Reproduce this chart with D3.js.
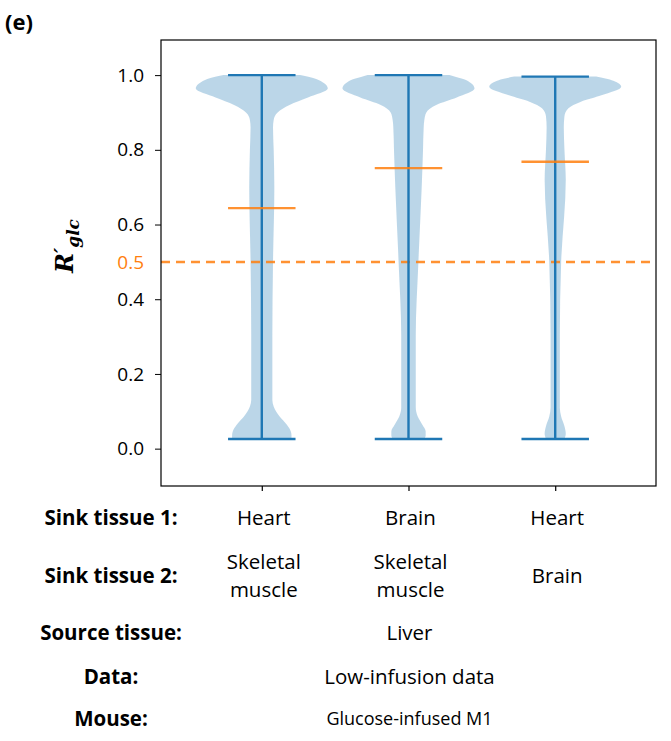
<!DOCTYPE html>
<html>
<head>
<meta charset="utf-8">
<script src="https://cdn.jsdelivr.net/npm/d3@7"></script>
<style>
  body { margin: 0; background: #fff; }
  text { font-family: "Open Sans", sans-serif; }
</style>
</head>
<body>
<div id="chart"></div>
<script>
// violin positions and summary stats
var positions = [1, 2, 3];
var mins = [0.026, 0.026, 0.026];
var maxs = [1.0, 1.0, 0.996];
var medians = [0.644, 0.751, 0.768];
var threshold = 0.5;

// density profiles: [value, relative density]
var dens1 = [[0.026,0.45],[0.035,0.45],[0.046,0.44],[0.064,0.38],[0.086,0.27],[0.113,0.18],[0.13,0.16],
  [0.2,0.16],[0.3,0.16],[0.5,0.17],[0.7,0.19],[0.8,0.18],[0.86,0.17],[0.88,0.18],[0.9,0.24],
  [0.92,0.42],[0.94,0.70],[0.964,1.0],[0.987,0.86],[0.995,0.72],[1.0,0.58]];
var dens2 = [[0.026,0.24],[0.035,0.26],[0.046,0.26],[0.064,0.21],[0.086,0.14],[0.11,0.11],[0.2,0.11],
  [0.3,0.11],[0.5,0.15],[0.7,0.20],[0.8,0.22],[0.86,0.23],[0.88,0.24],[0.9,0.27],[0.92,0.42],
  [0.94,0.73],[0.964,1.0],[0.987,0.87],[0.995,0.72],[1.0,0.62]];
var dens3 = [[0.026,0.14],[0.04,0.16],[0.06,0.14],[0.086,0.09],[0.11,0.07],[0.2,0.07],[0.3,0.07],
  [0.5,0.09],[0.72,0.16],[0.8,0.14],[0.86,0.13],[0.89,0.14],[0.911,0.20],[0.929,0.39],[0.946,0.70],
  [0.969,1.0],[0.985,0.88],[0.991,0.76],[0.996,0.62]];
var densities = [dens1, dens2, dens3];

var yTicks = [0.0, 0.2, 0.4, 0.6, 0.8, 1.0];

// table under the plot
var rowLabels = ["Sink tissue 1:", "Sink tissue 2:", "Source tissue:", "Data:", "Mouse:"];
var sink1 = ["Heart", "Brain", "Heart"];
var sink2 = [["Skeletal", "muscle"], ["Skeletal", "muscle"], ["Brain"]];
var source = "Liver";
var dataSet = "Low-infusion data";
var mouse = "Glucose-infused M1";

(function() {
var width = 671, height = 741;
var pl = 161, pr = 656, pt = 40, pb = 486;
var blue = "#1f77b4", orange = "#ff7f0e";

var svg = d3.select("#chart").append("svg")
    .attr("width", width)
    .attr("height", height)
    .style("background", "#fff");

var x = d3.scaleLinear().domain([0.313, 3.687]).range([pl, pr]);
var y = d3.scaleLinear().domain([-0.1, 1.094]).range([pb, pt]);
var halfW = d3.scaleLinear().domain([0, 1]).range([0, 0.45]);

// violin bodies
var area = d3.area()
    .y(function(d) { return y(d[0]); })
    .curve(d3.curveMonotoneY);

svg.append("g").selectAll("path")
  .data(densities)
  .enter().append("path")
    .attr("d", function(d, i) {
      return area
        .x0(function(p) { return x(positions[i] - halfW(p[1])); })
        .x1(function(p) { return x(positions[i] + halfW(p[1])); })(d);
    })
    .attr("fill", blue)
    .attr("fill-opacity", 0.3);

// threshold line
svg.append("line")
    .attr("x1", pl).attr("x2", pr)
    .attr("y1", y(threshold)).attr("y2", y(threshold))
    .attr("stroke", orange)
    .attr("stroke-opacity", 0.85)
    .attr("stroke-width", 2.5)
    .attr("stroke-dasharray", "9,6");

var cap = 0.23;
var g = svg.append("g").selectAll("g")
  .data(positions)
  .enter().append("g");

g.append("line")
    .attr("x1", function(d) { return x(d); })
    .attr("x2", function(d) { return x(d); })
    .attr("y1", function(d, i) { return y(mins[i]); })
    .attr("y2", function(d, i) { return y(maxs[i]); })
    .attr("stroke", blue).attr("stroke-width", 2.4);
g.append("line")
    .attr("x1", function(d) { return x(d - cap); })
    .attr("x2", function(d) { return x(d + cap); })
    .attr("y1", function(d, i) { return y(maxs[i]); })
    .attr("y2", function(d, i) { return y(maxs[i]); })
    .attr("stroke", blue).attr("stroke-width", 2.4);
g.append("line")
    .attr("x1", function(d) { return x(d - cap); })
    .attr("x2", function(d) { return x(d + cap); })
    .attr("y1", function(d, i) { return y(mins[i]); })
    .attr("y2", function(d, i) { return y(mins[i]); })
    .attr("stroke", blue).attr("stroke-width", 2.4);
g.append("line")
    .attr("x1", function(d) { return x(d - cap); })
    .attr("x2", function(d) { return x(d + cap); })
    .attr("y1", function(d, i) { return y(medians[i]); })
    .attr("y2", function(d, i) { return y(medians[i]); })
    .attr("stroke", orange).attr("stroke-opacity", 0.85).attr("stroke-width", 2.4);

// frame
svg.append("rect")
    .attr("x", pl).attr("y", pt)
    .attr("width", pr - pl).attr("height", pb - pt)
    .attr("fill", "none").attr("stroke", "#000").attr("stroke-width", 1.2);

// axes
var yAxis = svg.append("g")
    .attr("transform", "translate(" + pl + ",0)")
    .call(d3.axisLeft(y).tickValues(yTicks).tickFormat(d3.format(".1f")).tickSize(6).tickPadding(11));
yAxis.select(".domain").remove();
yAxis.selectAll("text").style("font-size", "19px").attr("fill", "#000");
yAxis.selectAll("line").attr("stroke", "#000");

var xAxis = svg.append("g")
    .attr("transform", "translate(0," + pb + ")")
    .call(d3.axisBottom(x).tickValues(positions).tickSize(5).tickFormat(""));
xAxis.select(".domain").remove();
xAxis.selectAll("line").attr("stroke", "#000").attr("stroke-width", 1.2);

svg.append("text")
    .attr("x", pl - 17).attr("y", y(threshold))
    .attr("dy", "0.35em")
    .attr("text-anchor", "end")
    .attr("fill", orange)
    .style("font-size", "19px")
    .text("0.5");

// y label R'_glc
var yl = svg.append("text")
    .attr("transform", "translate(73,246) rotate(-90)")
    .attr("text-anchor", "middle")
    .style("font-family", "'DejaVu Serif', serif")
    .style("font-weight", "bold")
    .style("font-style", "italic");
yl.append("tspan").style("font-size", "24px").text("R");
yl.append("tspan").style("font-size", "20px").attr("dy", -4).text("\u2032");
yl.append("tspan").style("font-size", "17px").attr("dy", 10).text("glc");

svg.append("text")
    .attr("x", 5).attr("y", 30)
    .style("font-size", "22px").style("font-weight", "bold")
    .text("(e)");

// table
var labelX = 111;
var rowY = [518, 576, 633, 677, 719];
svg.append("g").selectAll("text")
  .data(rowLabels)
  .enter().append("text")
    .attr("x", labelX)
    .attr("y", function(d, i) { return rowY[i]; })
    .attr("dy", "0.35em")
    .attr("text-anchor", "middle")
    .style("font-size", "20.5px").style("font-weight", "bold")
    .text(function(d) { return d; });

svg.append("g").selectAll("text")
  .data(sink1)
  .enter().append("text")
    .attr("x", function(d, i) { return x(positions[i]) + 2; })
    .attr("y", rowY[0])
    .attr("dy", "0.35em")
    .attr("text-anchor", "middle")
    .style("font-size", "20.5px")
    .text(function(d) { return d; });

sink2.forEach(function(lines, i) {
  lines.forEach(function(t, j) {
    svg.append("text")
      .attr("x", x(positions[i]) + 2)
      .attr("y", rowY[1] + (j - (lines.length - 1) / 2) * 28)
      .attr("dy", "0.35em")
      .attr("text-anchor", "middle")
      .style("font-size", "20.5px")
      .text(t);
  });
});

[source, dataSet].forEach(function(t, k) {
  svg.append("text")
    .attr("x", x(2) + 1).attr("y", rowY[2 + k])
    .attr("dy", "0.35em")
    .attr("text-anchor", "middle")
    .style("font-size", "20.5px")
    .text(t);
});
svg.append("text")
    .attr("x", x(2) + 1).attr("y", rowY[4])
    .attr("dy", "0.35em")
    .attr("text-anchor", "middle")
    .style("font-size", "18px")
    .text(mouse);
})();
</script>
</body>
</html>
